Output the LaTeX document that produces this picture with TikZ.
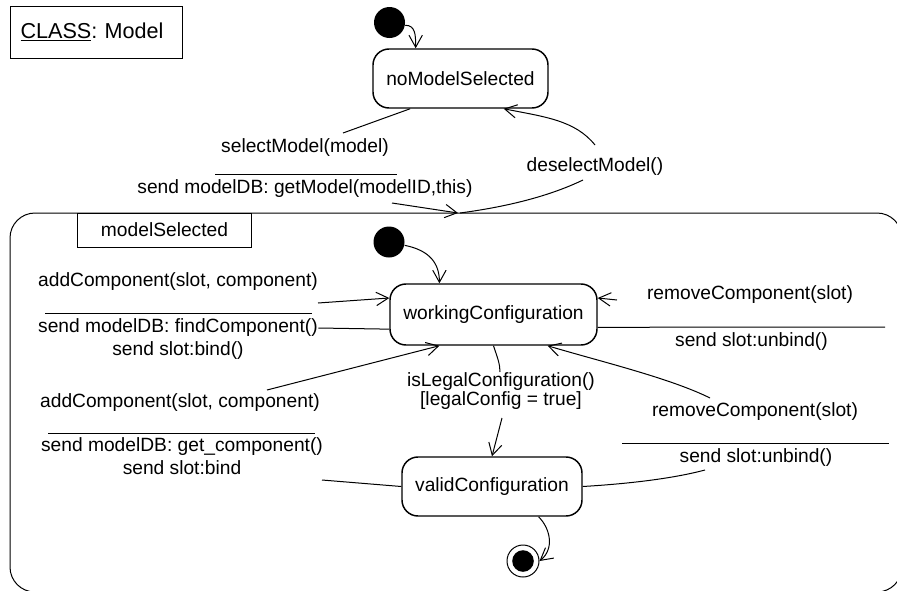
\documentclass[tikz,border=0pt]{standalone}
\usepackage{fontspec}
\setmainfont{Liberation Sans}
\frenchspacing
\usetikzlibrary{arrows.meta}
\tikzset{every picture/.style={line width=0.75pt}}
\tikzset{
  state/.style={draw, line width=1.1pt, rounded corners=12pt, inner sep=0pt},
  initdot/.style={circle, fill=black, minimum size=23.25pt, inner sep=0pt},
  finaldot/.style={circle, draw, minimum size=24pt, inner sep=0pt,
    path picture={\fill (path picture bounding box.center) circle (8.1pt);}},
  trans/.style={-{Straight Barb[length=9pt,width=10pt]}},
  lbl/.style={inner sep=0pt, text height=10.4pt, text depth=3pt},
}
\begin{document}
\begin{tikzpicture}[x=0.75pt,y=0.75pt,yscale=-1,xscale=1,font=\fontsize{14.4}{17}\selectfont]
\useasboundingbox (0,0) rectangle (897,590);

%Class name
\node[draw, anchor=west, inner xsep=7.5pt, text width=114pt, minimum height=39pt, align=left, font=\fontsize{16.2}{19}\selectfont] (cls) at (10,32) {\underline{CLASS}: Model};

%Super state: modelSelected
\draw[rounded corners=18.75pt] (10,213) rectangle (902,592);
\node[draw, minimum width=130.5pt, minimum height=25.5pt, inner sep=0pt] (mselName) at (164.5,230) {modelSelected};

%States
\node[initdot] (init1) at (389.5,22.5) {};
\node[state, minimum width=131.25pt, minimum height=44.25pt] (noSel) at (460.5,78.5) {noModelSelected};
\node[initdot] (init2) at (389,242) {};
\node[state, minimum width=155.25pt, minimum height=45.75pt] (work) at (493.5,314.5) {workingConfiguration};
\node[state, minimum width=135pt, minimum height=44.25pt] (valid) at (492,486.5) {validConfiguration};
\node[finaldot] (final) at (523,561) {};

% Text Node
\node[lbl] (selTxt) at (305,148) {selectModel(model)};
\node[lbl] (selAct) at (305,189) {send modelDB: getModel(modelID,this)};
\node[lbl] (deselTxt) at (595,167) {deselectModel()};
\node[lbl] (addTxt) at (178,282) {addComponent(slot, component)};
\node[lbl] (addAct) at (178,328) {send modelDB: findComponent()};
\node[lbl] (addAct2) at (178,351) {send slot:bind()};
\node[lbl] (add2Txt) at (180,403) {addComponent(slot, component)};
\node[lbl] (add2Act) at (182,447) {send modelDB: get\_component()};
\node[lbl] (add2Act2) at (182,470) {send slot:bind};
\node[lbl] (legalTxt) at (501,382) {isLegalConfiguration()};
\node[lbl] (legalGrd) at (501,401) {[legalConfig = true]};
\node[lbl] (remTxt) at (750,295) {removeComponent(slot)};
\node[lbl] (remAct) at (751.5,342) {send slot:unbind()};
\node[lbl] (rem2Txt) at (755,412) {removeComponent(slot)};
\node[lbl] (rem2Act) at (756,458) {send slot:unbind()};

%Straight Lines: separators
\draw (215,174) -- (397,174);
\draw (45,313) -- (312,313);
\draw (48,433) -- (315,433);
\draw (622,443) -- (889,443);

%Free ends of the transitions
\coordinate (selA) at (343,133);
\coordinate (selB) at (392,203);
\coordinate (selIn) at (458,213);
\coordinate (deselOut) at (460,213);
\coordinate (deselA) at (583,180);
\coordinate (deselB) at (595,145);
\coordinate (addA) at (318,303);
\coordinate (add2A) at (267,390);
\coordinate (add2B) at (322,480);
\coordinate (legalA) at (500,372);
\coordinate (legalB) at (502,418);
\coordinate (remA) at (617,300);
\coordinate (remRule) at (885,327);
\coordinate (rem2A) at (705,470);
\coordinate (rem2B) at (710,398);

%Transitions
\draw[trans] (init1.-10) .. controls +(10,0) and +(0,-14) .. (noSel.146);
\draw (noSel.-149) -- (selA);
\draw[trans] (selB) -- (selIn);
\draw (deselOut) .. controls +(60,-8) and +(-25,12) .. (deselA);
\draw[trans] (deselB) .. controls +(-20,-25) and +(40,8) .. (noSel.-35);
\draw[trans] (init2.-12) .. controls +(25,5) and +(0,-20) .. (work.150);
\draw[trans] (addA) -- (work.171);
\draw (work.188) -- (addAct.east);
\draw[trans] (add2A) -- (work.-150);
\draw (valid.west) -- (add2B);
\draw (work.south) .. controls +(4,12) and +(0,-8) .. (legalA);
\draw[trans] (legalB) -- (valid.north);
\draw[trans] (remA) -- (work.9);
\draw (work.-7) -- (remRule);
\draw (valid.east) .. controls +(50,-3) and +(-30,8) .. (rem2A);
\draw[trans] (rem2B) .. controls +(-40,-20) and +(50,15) .. (work.-30);
\draw[trans] (valid.-33) .. controls +(12,12) and +(15,-12) .. (final.east);
\end{tikzpicture}
\end{document}
